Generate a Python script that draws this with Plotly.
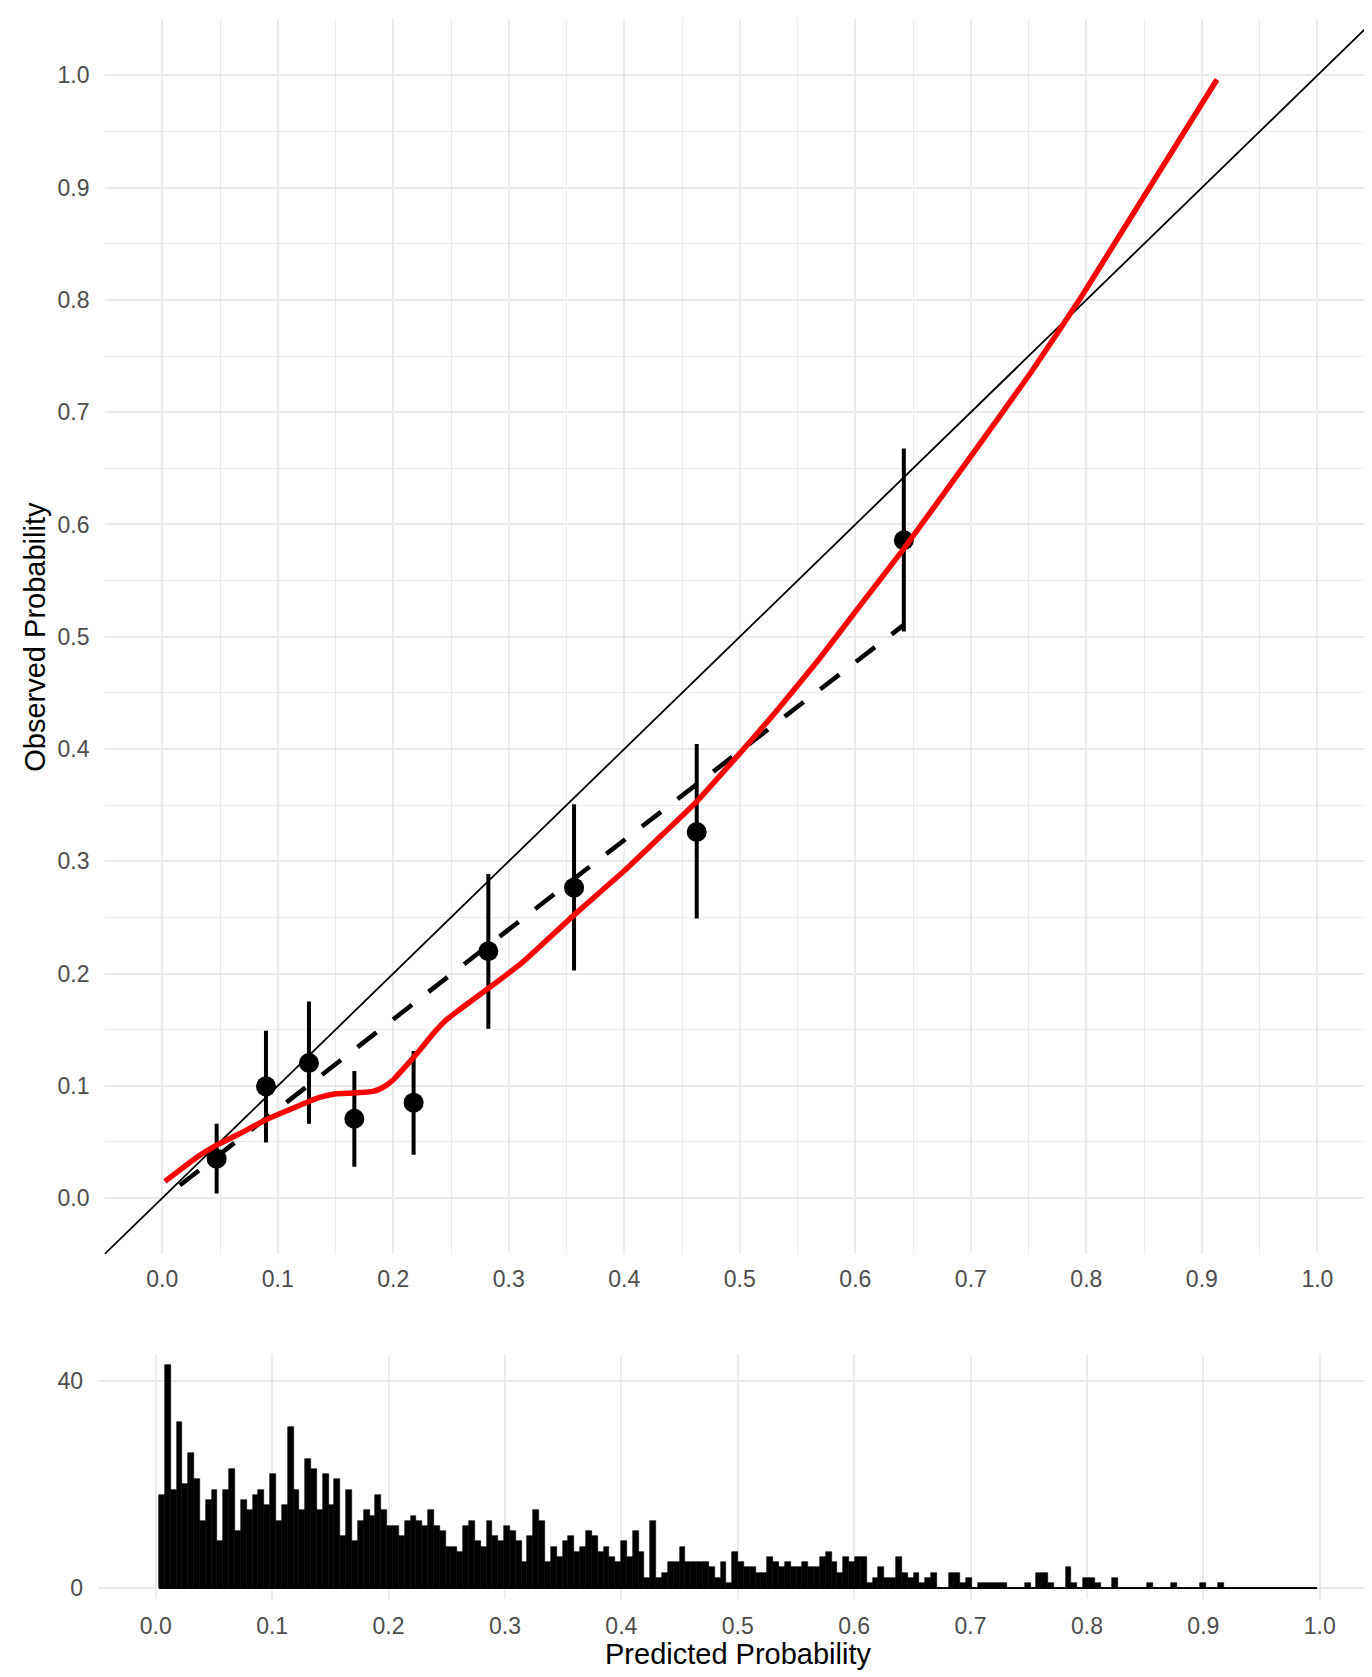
import plotly.graph_objects as go

# ---------------- data ----------------
# grouped observed proportions with confidence intervals
group_pred = [0.0471, 0.0898, 0.1270, 0.1663, 0.2176, 0.2823, 0.3565, 0.4627, 0.6420]
group_obs = [0.0351, 0.0995, 0.1203, 0.0707, 0.0850, 0.2199, 0.2765, 0.3261, 0.5860]
group_upper = [0.0663, 0.1490, 0.1751, 0.1131, 0.1310, 0.2887, 0.3507, 0.4044, 0.6676]
group_lower = [0.0040, 0.0494, 0.0663, 0.0280, 0.0387, 0.1508, 0.2027, 0.2490, 0.5047]

# dashed (grouped / linear) calibration line
dashed_x = [0.0153, 0.3559, 0.6426]
dashed_y = [0.0114, 0.2840, 0.5110]

# flexible (smoothed) calibration curve, red
smooth_x = [0.0023, 0.0297, 0.0470, 0.0672, 0.0903, 0.1188, 0.1361, 0.1505, 0.1650,
            0.1823, 0.1910, 0.1996, 0.2082, 0.2169, 0.2255, 0.2342, 0.2462, 0.2575,
            0.2818, 0.3121, 0.3559, 0.3986, 0.4274, 0.4620, 0.4994, 0.5282, 0.5694,
            0.6029, 0.6420, 0.6975, 0.7523, 0.7948, 0.8251, 0.8684, 0.9131]
smooth_y = [0.0149, 0.0362, 0.0471, 0.0575, 0.0700, 0.0825, 0.0896, 0.0929, 0.0935,
            0.0950, 0.0985, 0.1050, 0.1145, 0.1245, 0.1350, 0.1460, 0.1590, 0.1680,
            0.1864, 0.2101, 0.2516, 0.2902, 0.3183, 0.3525, 0.3955, 0.4295, 0.4811,
            0.5261, 0.5785, 0.6571, 0.7358, 0.8014, 0.8514, 0.9227, 0.9964]

# ideal calibration (identity) reference
ideal = [-0.05, 1.05]

# histogram of predicted probabilities
bin_start = 0.0028
bin_width = 0.005025
hist_counts = [
    18, 43, 19, 32, 20, 26, 21, 13, 17, 19,
    9, 19, 23, 11, 17, 15, 18, 19, 16, 22,
    13, 16, 31, 19, 15, 25, 23, 15, 22, 16,
    21, 10, 19, 9, 13, 15, 14, 18, 15, 12,
    12, 10, 13, 14, 13, 12, 15, 12, 11, 8,
    8, 7, 12, 13, 9, 8, 13, 10, 9, 12,
    11, 9, 5, 10, 15, 13, 5, 8, 6, 9,
    10, 7, 8, 11, 10, 7, 8, 6, 5, 9,
    6, 11, 7, 2, 13, 2, 3, 5, 5, 8,
    5, 5, 5, 5, 4, 2, 5, 1, 7, 5,
    4, 4, 3, 3, 6, 5, 4, 5, 4, 4,
    5, 4, 4, 6, 7, 5, 3, 6, 5, 6,
    6, 1, 2, 4, 2, 2, 6, 3, 2, 3,
    1, 2, 3, 0, 0, 3, 3, 1, 2, 0,
    1, 1, 1, 1, 1, 0, 0, 0, 1, 0,
    3, 3, 1, 0, 0, 4, 1, 0, 2, 2,
    1, 0, 0, 2, 0, 0, 0, 0, 0, 1,
    0, 0, 0, 1, 0, 0, 0, 0, 1, 0,
    0, 1, 0, 0, 0, 0, 0, 0, 0, 0,
    0, 0, 0, 0, 0, 0, 0, 0,
]

x_ticks = [0.0, 0.1, 0.2, 0.3, 0.4, 0.5, 0.6, 0.7, 0.8, 0.9, 1.0]
y_ticks = [0.0, 0.1, 0.2, 0.3, 0.4, 0.5, 0.6, 0.7, 0.8, 0.9, 1.0]
hist_y_ticks = [0, 40]

x_title = "Predicted Probability"
y_title = "Observed Probability"

# ---------------- figure ----------------
OFF = 8                      # page body margin of the browser
W, H = 1372 - OFF, 1677 - OFF
FONT = "Liberation Sans, Arial, Helvetica, sans-serif"
GRID = "#EBEBEB"
TICKFONT = dict(family=FONT, size=23, color="#4D4D4D")


def px_x(p):   # page x pixel -> paper fraction
    return (p - OFF) / W


def px_y(p):   # page y pixel (from top) -> paper fraction (from bottom)
    return 1 - (p - OFF) / H


centers = [bin_start + (i + 0.5) * bin_width for i in range(len(hist_counts))]
hist_edges = [bin_start, bin_start + len(hist_counts) * bin_width]

fig = go.Figure()

# identity line
fig.add_trace(go.Scatter(x=ideal, y=ideal, mode="lines",
                         line=dict(color="black", width=1.8),
                         xaxis="x", yaxis="y", hoverinfo="skip"))
# dashed line
fig.add_trace(go.Scatter(x=dashed_x, y=dashed_y, mode="lines",
                         line=dict(color="black", width=4.6, dash="24px,21px"),
                         xaxis="x", yaxis="y"))
# grouped points with CI
fig.add_trace(go.Scatter(
    x=group_pred, y=group_obs, mode="markers",
    marker=dict(color="black", size=20),
    error_y=dict(type="data", symmetric=False,
                 array=[u - o for u, o in zip(group_upper, group_obs)],
                 arrayminus=[o - l for o, l in zip(group_obs, group_lower)],
                 thickness=4, width=0, color="black"),
    xaxis="x", yaxis="y"))
# smoothed red curve
fig.add_trace(go.Scatter(x=smooth_x, y=smooth_y, mode="lines",
                         line=dict(color="#FF0000", width=5.5, shape="spline", smoothing=0.4),
                         xaxis="x", yaxis="y"))

# histogram
fig.add_trace(go.Bar(x=centers, y=hist_counts, width=bin_width,
                     marker=dict(color="black", line=dict(color="black", width=0.6)),
                     xaxis="x2", yaxis="y2"))
fig.add_trace(go.Scatter(x=hist_edges, y=[0, 0], mode="lines",
                         line=dict(color="black", width=1.6),
                         xaxis="x2", yaxis="y2"))

common_axis = dict(showline=False, zeroline=False, ticks="", gridcolor=GRID,
                   tickfont=TICKFONT)

fig.update_layout(
    width=W, height=H,
    margin=dict(l=0, r=0, t=0, b=0),
    paper_bgcolor="white", plot_bgcolor="white",
    showlegend=False, bargap=0,
    font=dict(family=FONT),
    xaxis=dict(domain=[px_x(104.5), 1.0], range=[-0.05, 1.0473],
               tickvals=x_ticks, tickformat=".1f", gridwidth=2.4,
               minor=dict(dtick=0.05, tick0=0.0, showgrid=True, gridcolor=GRID, gridwidth=1.2),
               ticklabelstandoff=9, anchor="y", **common_axis),
    yaxis=dict(domain=[px_y(1255.7), px_y(19.3)], range=[-0.05, 1.05],
               tickvals=y_ticks, tickformat=".1f", gridwidth=2.4,
               minor=dict(dtick=0.05, tick0=0.0, showgrid=True, gridcolor=GRID, gridwidth=1.2),
               ticklabelstandoff=14, anchor="x", **common_axis),
    xaxis2=dict(domain=[px_x(98.0), 1.0], range=[-0.0496, 1.0449],
                tickvals=x_ticks, tickformat=".1f", gridwidth=2.4,
                ticklabelstandoff=11, anchor="y2", **common_axis),
    yaxis2=dict(domain=[px_y(1601.2), px_y(1355.6)], range=[-2.15, 45.15],
                tickvals=hist_y_ticks, gridwidth=2.4,
                ticklabelstandoff=14, anchor="x2", **common_axis),
    annotations=[
        dict(text=y_title, textangle=-90, xref="paper", yref="paper",
             x=px_x(35), y=px_y(637.5), xanchor="center", yanchor="middle",
             showarrow=False, font=dict(family=FONT, size=29, color="black")),
        dict(text=x_title, xref="paper", yref="paper",
             x=px_x(737.5), y=px_y(1656), xanchor="center", yanchor="middle",
             showarrow=False, font=dict(family=FONT, size=29, color="black")),
    ],
)

fig.write_html("out.html")
